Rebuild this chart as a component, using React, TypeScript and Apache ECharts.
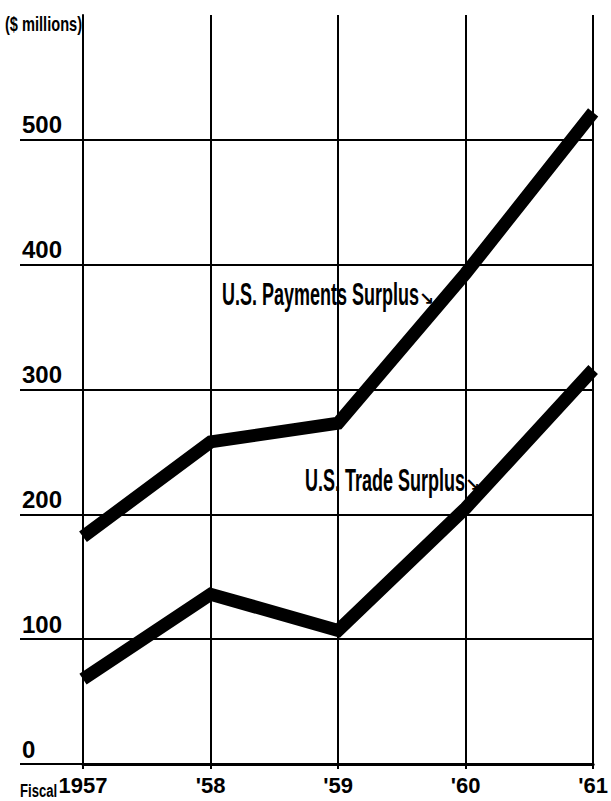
import React, { useEffect, useRef } from "react";
import * as echarts from "echarts";

const years = ["1957", "'58", "'59", "'60", "'61"];
const paymentsSurplus = [182, 258, 273, 393, 522];
const tradeSurplus = [68, 136, 107, 205, 316];
const yTickLabels = [0, 100, 200, 300, 400, 500];

const FONT = '"Liberation Sans", Arial, sans-serif';

export default function App() {
  const ref = useRef<HTMLDivElement>(null);
  useEffect(() => {
    if (!ref.current) return;
    const chart = echarts.init(ref.current, null, { renderer: "svg" });
    const lineStyle = { color: "#000", width: 13, cap: "butt", join: "miter" };
    chart.setOption({
      animation: false,
      backgroundColor: "#fff",
      grid: { left: 83, right: 11, top: 15, bottom: 37, containLabel: false },
      xAxis: {
        type: "category",
        data: years,
        boundaryGap: false,
        axisLine: { show: true, lineStyle: { color: "#000", width: 3 } },
        axisTick: { show: true, length: 5, alignWithLabel: true, lineStyle: { color: "#000", width: 2 } },
        splitLine: { show: true, lineStyle: { color: "#000", width: 2 } },
        axisLabel: {
          margin: 10,
          color: "#000",
          fontFamily: FONT,
          fontWeight: "bold",
          fontSize: 22,
          lineHeight: 22,
          interval: 0,
        },
      },
      yAxis: {
        type: "value",
        min: 0,
        max: 600,
        interval: 50,
        axisLine: { show: true, lineStyle: { color: "#000", width: 2 } },
        axisTick: {
          show: true,
          length: 63,
          customValues: yTickLabels,
          lineStyle: { color: "#000", width: 2 },
        },
        splitLine: { show: true, lineStyle: { color: "#000", width: 2 } },
        axisLabel: {
          customValues: yTickLabels,
          margin: 61,
          align: "left",
          verticalAlign: "bottom",
          color: "#000",
          fontFamily: FONT,
          fontWeight: "bold",
          fontSize: 24,
          lineHeight: 20,
          padding: [0, 0, 5, 0],
        },
      },
      series: [
        {
          name: "U.S. Payments Surplus",
          type: "line",
          data: paymentsSurplus,
          symbol: "none",
          lineStyle,
          z: 5,
        },
        {
          name: "U.S. Trade Surplus",
          type: "line",
          data: tradeSurplus,
          symbol: "none",
          lineStyle,
          z: 5,
        },
      ],
      graphic: [
        {
          type: "text",
          x: 5,
          y: 24,
          scaleX: 0.73,
          style: { text: "($ millions)", font: `bold 20px ${FONT}`, fill: "#000", align: "left", verticalAlign: "middle" },
        },
        {
          type: "text",
          x: 20,
          y: 790,
          scaleX: 0.69,
          style: { text: "Fiscal", font: `bold 19px ${FONT}`, fill: "#000", align: "left", verticalAlign: "middle" },
        },
        {
          type: "text",
          x: 222,
          y: 294,
          scaleX: 0.6,
          scaleY: 1.07,
          z: 10,
          style: { text: "U.S. Payments Surplus", font: `bold 30px ${FONT}`, fill: "#000", align: "left", verticalAlign: "middle" },
        },
        {
          type: "text",
          x: 419,
          y: 298,
          z: 10,
          style: { text: "↘", font: `bold 18px "DejaVu Sans"`, fill: "#000", align: "left", verticalAlign: "middle" },
        },
        {
          type: "text",
          x: 465,
          y: 484,
          z: 10,
          style: { text: "↘", font: `bold 18px "DejaVu Sans"`, fill: "#000", align: "left", verticalAlign: "middle" },
        },
        {
          type: "text",
          x: 305,
          y: 480,
          scaleX: 0.6,
          scaleY: 1.07,
          z: 10,
          style: { text: "U.S. Trade Surplus", font: `bold 30px ${FONT}`, fill: "#000", align: "left", verticalAlign: "middle" },
        },
      ],
    });
    return () => chart.dispose();
  }, []);
  return <div ref={ref} style={{ position: "fixed", left: 0, top: 0, width: 611, height: 801 }} />;
}
